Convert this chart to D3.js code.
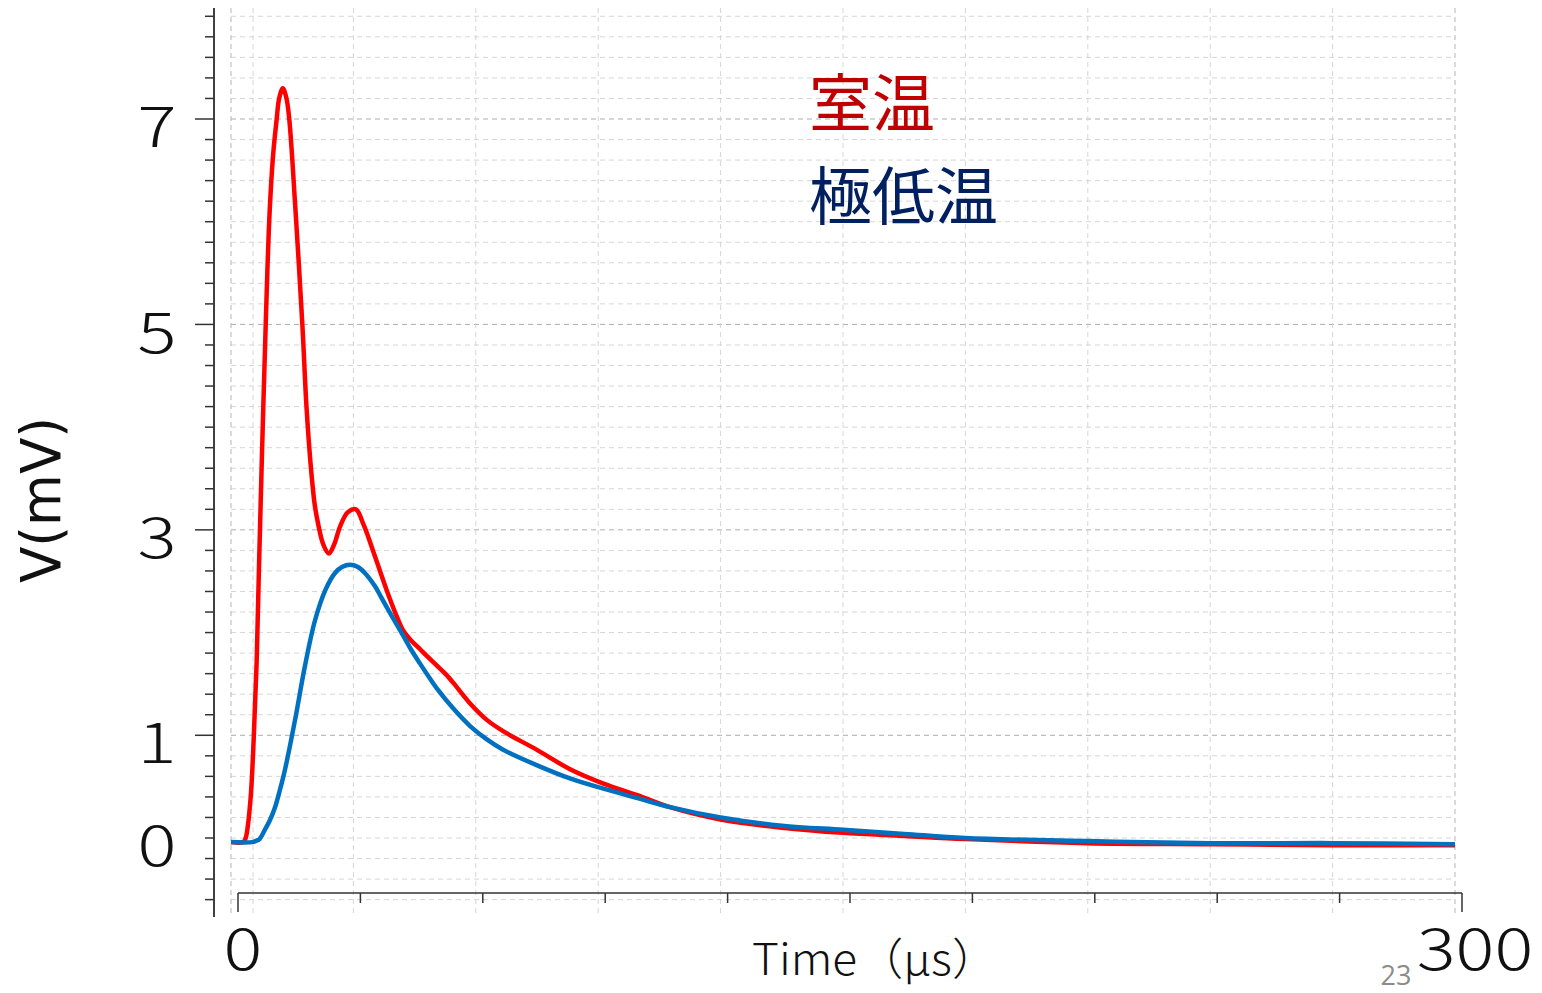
<!DOCTYPE html>
<html>
<head>
<meta charset="utf-8">
<script src="https://cdn.jsdelivr.net/npm/d3@7"></script>
<style>
  html, body { margin: 0; padding: 0; background: #fff; }
  svg { display: block; }
  text { font-family: "Noto Sans CJK JP", "Noto Sans", sans-serif; }
</style>
</head>
<body>
<svg id="chart" width="1542" height="993"></svg>
<script>
// Time axis (µs) and voltage readings (mV) for the two temperatures
const roomTime = [0, 3.0, 3.6, 4.1, 4.9, 5.6, 6.3, 6.9, 7.6, 8.5, 9.0, 9.5, 10.3, 11.2, 11.8, 12.7, 13.6, 14.3, 15.7, 17.5, 18.5, 19.6, 20.5, 21.4, 22.6, 24.0, 25.3, 26.7, 28.6, 30.6, 32.5, 35.3, 38.0, 40.7, 42.2, 44.2, 46.3, 48.3, 50.4, 52.5, 54.5, 58.6, 62.7, 66.7, 74.9, 83.1, 91.3, 99.4, 107.6, 120, 135, 150, 165, 180, 210, 240, 270, 300];
const roomVolt = [-0.04, -0.04, 0.0, 0.11, 0.44, 1.0, 1.73, 2.7, 3.75, 4.99, 5.62, 6.12, 6.64, 7.0, 7.2, 7.3, 7.2, 6.99, 6.18, 4.99, 4.2, 3.6, 3.25, 3.05, 2.86, 2.77, 2.86, 3.03, 3.17, 3.20, 3.05, 2.74, 2.43, 2.15, 2.02, 1.92, 1.84, 1.76, 1.68, 1.60, 1.51, 1.31, 1.15, 1.04, 0.86, 0.67, 0.53, 0.42, 0.30, 0.18, 0.10, 0.05, 0.02, -0.01, -0.05, -0.06, -0.07, -0.07];

const coldTime = [0, 5.2, 6.0, 7.0, 8.3, 9.5, 10.8, 12.0, 13.2, 15.7, 18.1, 20.6, 23.2, 25.5, 27.3, 29.2, 31.0, 32.8, 35.3, 37.0, 40.0, 42.2, 44.2, 46.3, 48.8, 50.4, 54.5, 58.6, 62.7, 66.7, 74.9, 83.1, 91.3, 99.4, 107.6, 120, 135, 150, 165, 180, 210, 240, 270, 300];
const coldVolt = [-0.04, -0.04, -0.03, -0.01, 0.08, 0.17, 0.30, 0.47, 0.66, 1.15, 1.67, 2.12, 2.42, 2.58, 2.64, 2.66, 2.64, 2.58, 2.45, 2.33, 2.12, 1.97, 1.83, 1.70, 1.55, 1.46, 1.26, 1.09, 0.96, 0.86, 0.71, 0.58, 0.48, 0.39, 0.30, 0.20, 0.12, 0.08, 0.04, 0.0, -0.03, -0.05, -0.05, -0.06];

const seriesNames = ["室温", "極低温"];
const yTickLabels = [0, 1, 3, 5, 7];
const yMajorTicks = [1, 3, 5, 7];
const xTickLabels = [0, 300];
const xGridValues = [0, 5.4, 30, 60, 90, 120, 150, 180, 210, 240, 270, 300];
const pageNumber = "23";

const svg = d3.select("#chart");

// Plot scales
const x = d3.scaleLinear().domain([0, 300]).range([231, 1455]);
const y = d3.scaleLinear().domain([0, 7]).range([838, 119]);
// The time axis is drawn slightly offset below the plot
const xAxisScale = x.copy().range([238, 1462]);

const yTop = 8.08, yBottom = -0.77;
const yMinor = d3.range(-6, 81, 2).map(d => d / 10);

// Grid
const grid = svg.append("g");
grid.selectAll("line.h").data(yMinor).join("line")
  .attr("x1", x(0)).attr("x2", x(300))
  .attr("y1", d => y(d)).attr("y2", d => y(d))
  .attr("stroke", d => yMajorTicks.includes(d) ? "#adadad" : "#d6d6d6")
  .attr("stroke-width", 1)
  .attr("stroke-dasharray", "5,4");
grid.selectAll("line.v").data(xGridValues).join("line")
  .attr("x1", d => x(d)).attr("x2", d => x(d))
  .attr("y1", y(yTop)).attr("y2", y(yBottom))
  .attr("stroke", d => (d === 0 || d === 300) ? "#b5b5b5" : "#d6d6d6")
  .attr("stroke-width", 1)
  .attr("stroke-dasharray", "5,4");

// Y axis
const yAxisG = svg.append("g");
yAxisG.append("line")
  .attr("x1", 214).attr("x2", 214)
  .attr("y1", y(yTop)).attr("y2", y(yBottom))
  .attr("stroke", "#404040").attr("stroke-width", 2);
yAxisG.selectAll("line.t").data(yMinor).join("line")
  .attr("x1", d => yMajorTicks.includes(d) ? 195 : 205).attr("x2", 214)
  .attr("y1", d => y(d)).attr("y2", d => y(d))
  .attr("stroke", "#333").attr("stroke-width", 1.5);
yAxisG.selectAll("text").data(yTickLabels).join("text")
  .attr("transform", d => `translate(157,${y(d) + 4}) scale(1.3,1)`)
  .attr("text-anchor", "middle").attr("dominant-baseline", "central")
  .attr("font-size", 56).attr("font-weight", 300).attr("fill", "#111")
  .text(d => d);

// X axis
const xAxisG = svg.append("g");
xAxisG.append("line")
  .attr("x1", xAxisScale(0)).attr("x2", xAxisScale(300))
  .attr("y1", 893).attr("y2", 893)
  .attr("stroke", "#333").attr("stroke-width", 1.5);
xAxisG.selectAll("line.t").data(d3.range(0, 301, 30)).join("line")
  .attr("x1", d => xAxisScale(d)).attr("x2", d => xAxisScale(d))
  .attr("y1", 893).attr("y2", d => (d === 0 || d === 300) ? 912 : 903)
  .attr("stroke", "#333").attr("stroke-width", 1.5);
xAxisG.selectAll("text").data(xTickLabels).join("text")
  .attr("transform", d => `translate(${xAxisScale(d) + (d === 0 ? 5 : 13)},970) scale(1.25,1)`)
  .attr("text-anchor", "middle")
  .attr("font-size", 58).attr("font-weight", 300).attr("fill", "#111")
  .text(d => d);

// Axis titles
svg.append("text")
  .attr("x", 752).attr("y", 975)
  .attr("textLength", 246).attr("lengthAdjust", "spacingAndGlyphs")
  .attr("font-size", 44).attr("font-weight", 300).attr("fill", "#111")
  .text("Time（μs）");
svg.append("text")
  .attr("transform", "translate(60,500) rotate(-90)")
  .attr("x", -83)
  .attr("textLength", 166).attr("lengthAdjust", "spacingAndGlyphs")
  .style("font-family", "'DejaVu Sans', sans-serif")
  .attr("font-size", 55).attr("fill", "#111")
  .text("V(mV)");

// Curves
const line = d3.line()
  .x(d => x(d[0])).y(d => y(d[1]))
  .curve(d3.curveCatmullRom.alpha(0.5));
const roomData = d3.zip(roomTime, roomVolt);
const coldData = d3.zip(coldTime, coldVolt);
svg.append("path").datum(roomData)
  .attr("d", line).attr("fill", "none")
  .attr("stroke", "#ff0000").attr("stroke-width", 4.5)
  .attr("stroke-linejoin", "round");
svg.append("path").datum(coldData)
  .attr("d", line).attr("fill", "none")
  .attr("stroke", "#0070c0").attr("stroke-width", 4.5)
  .attr("stroke-linejoin", "round");

// Legend labels
svg.append("text")
  .attr("x", 809).attr("y", 98).attr("dominant-baseline", "central")
  .attr("font-size", 63).attr("fill", "#c00000")
  .text(seriesNames[0]);
svg.append("text")
  .attr("x", 809).attr("y", 191).attr("dominant-baseline", "central")
  .attr("font-size", 63).attr("fill", "#002060")
  .text(seriesNames[1]);

// Page number
svg.append("text")
  .attr("x", 1396).attr("y", 985).attr("text-anchor", "middle")
  .style("font-family", "'Open Sans', sans-serif")
  .attr("font-size", 27).attr("fill", "#8c8c8c")
  .text(pageNumber);
</script>
</body>
</html>
